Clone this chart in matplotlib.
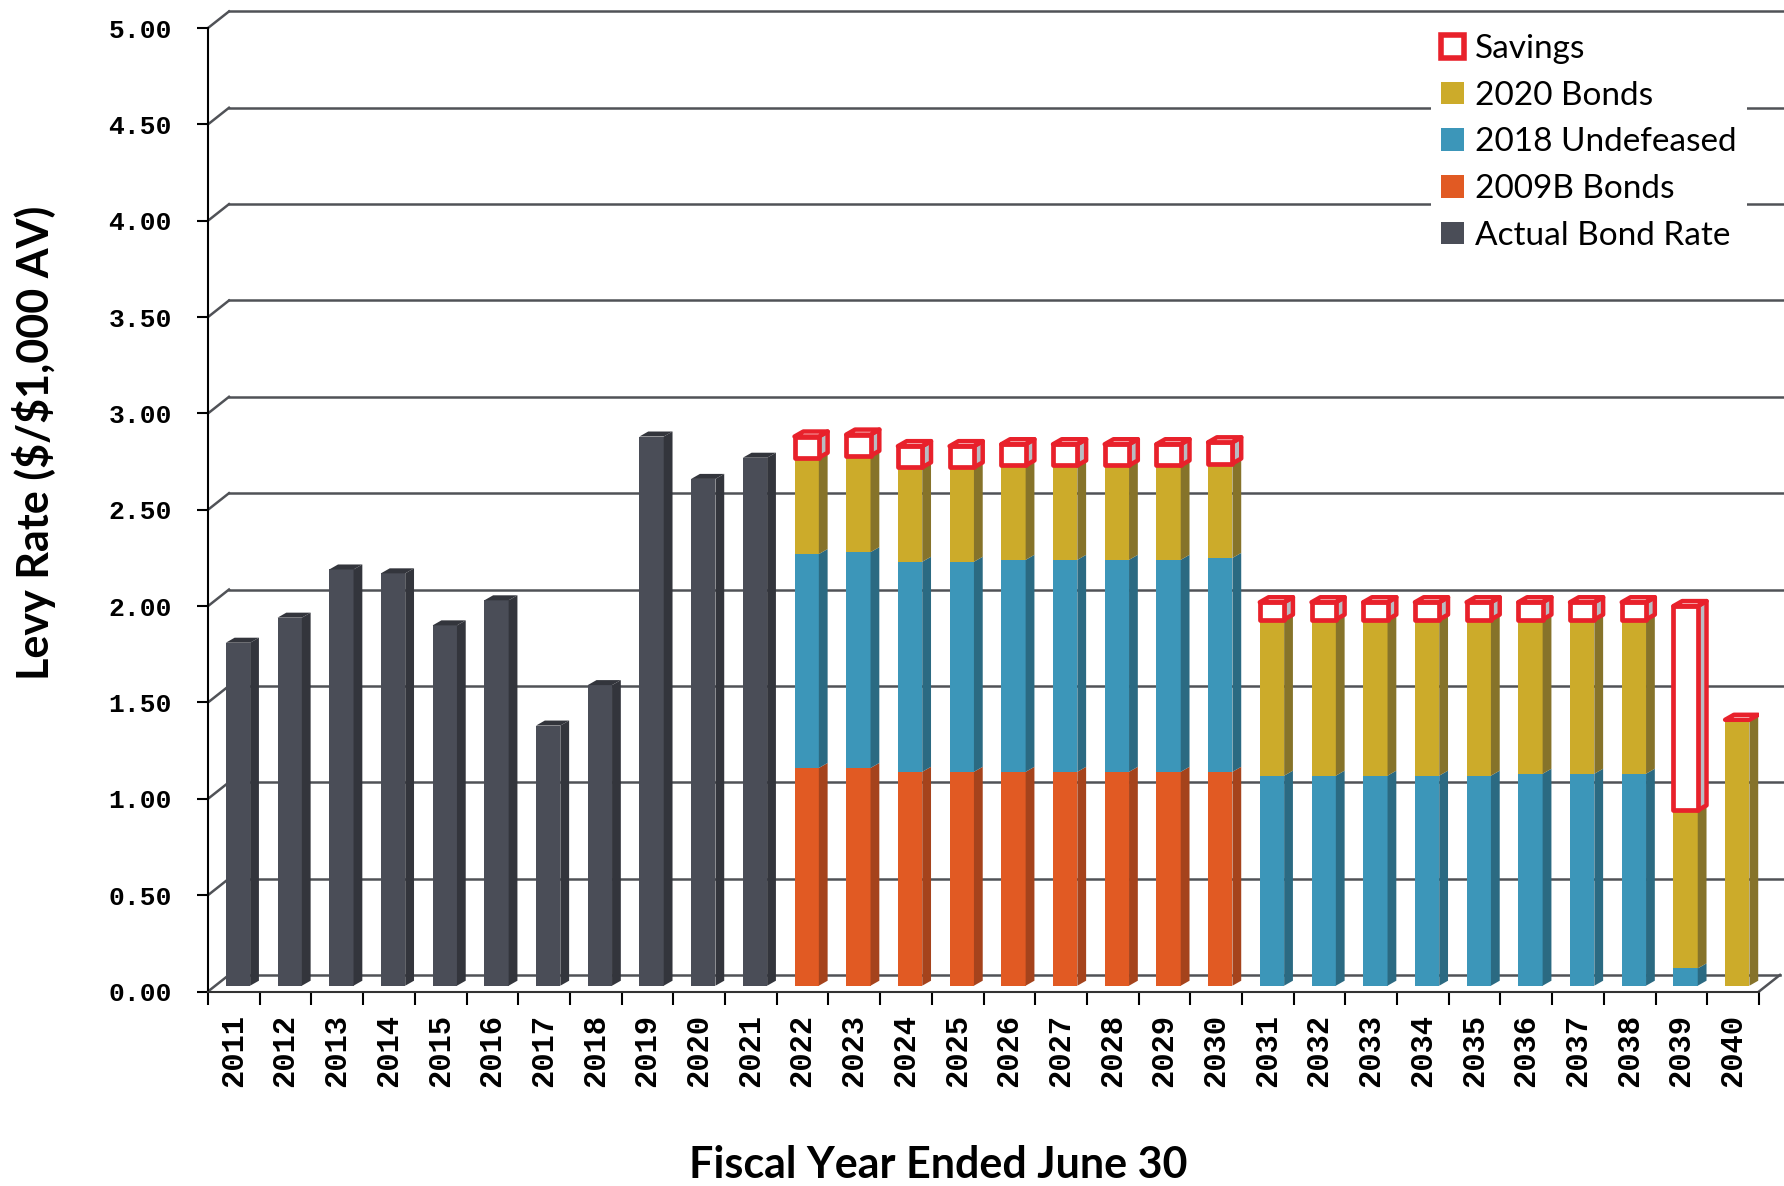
import matplotlib
matplotlib.use("Agg")
import matplotlib.pyplot as plt
from matplotlib.patches import Polygon, Rectangle, Patch
import numpy as np

# ---------------- data ----------------
years = [str(y) for y in range(2011, 2041)]
actual_bond_rate = [1.78, 1.91, 2.16, 2.14, 1.87, 2.00, 1.35, 1.56, 2.85, 2.63, 2.74,
                    0, 0, 0, 0, 0, 0, 0, 0, 0,
                    0, 0, 0, 0, 0, 0, 0, 0, 0, 0]
bonds_2009b = [0] * 11 + [1.13, 1.13, 1.11, 1.11, 1.11, 1.11, 1.11, 1.11, 1.11] + [0] * 10
undefeased_2018 = [0] * 11 + [1.11, 1.12, 1.09, 1.09, 1.10, 1.10, 1.10, 1.10, 1.11] + \
                  [1.09, 1.09, 1.09, 1.09, 1.09, 1.10, 1.10, 1.10, 0.09, 0.0]
bonds_2020 = [0] * 11 + [0.50, 0.50, 0.49, 0.49, 0.49, 0.49, 0.49, 0.49, 0.49] + \
             [0.81, 0.81, 0.81, 0.81, 0.81, 0.80, 0.80, 0.80, 0.82, 1.38]
savings = [None] * 11 + [0.11, 0.11, 0.11, 0.11, 0.11, 0.11, 0.11, 0.11, 0.11] + \
          [0.09, 0.09, 0.09, 0.09, 0.09, 0.09, 0.09, 0.09, 1.06, 0.0]
yticks = [0.0, 0.5, 1.0, 1.5, 2.0, 2.5, 3.0, 3.5, 4.0, 4.5, 5.0]

# ---------------- style ----------------
C_DARK, S_DARK = "#4a4d57", "#33353c"
C_ORANGE, S_ORANGE = "#e15a23", "#a5431c"
C_BLUE, S_BLUE = "#3c96b9", "#2b6a82"
C_GOLD, S_GOLD = "#ccab2a", "#86732a"
C_RED = "#e8212b"
C_GRID = "#505257"

W = 0.47        # bar front width (category units)
SHIFT = 0.08    # bar offset (depth placement)
DX, DY = 0.17, 0.026   # bar depth projection
BASE = 0.03            # floor offset of bars
GX, GY = 0.406, 0.086  # back-wall projection

W_PX, H_PX = 1784, 1186
fig = plt.figure(figsize=(W_PX / 100, H_PX / 100), dpi=100, facecolor="white")
ax = fig.add_axes([208 / W_PX, (H_PX - 991.5) / H_PX, (1759 - 208) / W_PX, (991.5 - 28) / H_PX])
ax.set_facecolor("none")

n = len(years)
x = np.arange(n)
ax.set_xlim(-0.5, n - 0.5)
ax.set_ylim(0, 5)

# back-wall gridlines with diagonals from the front axis
for yv in yticks:
    ax.plot([-0.5, -0.5 + GX], [yv, yv + GY], color=C_GRID, lw=1.8, zorder=1, clip_on=False)
    xr = n - 0.5 + GX if yv == 0 else n
    ax.plot([-0.5 + GX, xr], [yv + GY, yv + GY], color=C_GRID, lw=1.8, zorder=1, clip_on=False)
ax.plot([n - 0.5, n - 0.5 + GX], [0, GY], color=C_GRID, lw=1.8, zorder=1, clip_on=False)


def side_face(xl, y0, y1, color, z=3, ec="none", lw=0):
    xr = xl + W
    ax.add_patch(Polygon([(xr, y0), (xr + DX, y0 + DY), (xr + DX, y1 + DY), (xr, y1)],
                         closed=True, facecolor=color, edgecolor=ec, lw=lw, zorder=z,
                         joinstyle="round"))


def top_face(xl, y1, color, z=3, ec="none", lw=0):
    xr = xl + W
    ax.add_patch(Polygon([(xl, y1), (xl + DX, y1 + DY), (xr + DX, y1 + DY), (xr, y1)],
                         closed=True, facecolor=color, edgecolor=ec, lw=lw, zorder=z,
                         joinstyle="round"))


series = [(actual_bond_rate, C_DARK, S_DARK),
          (bonds_2009b, C_ORANGE, S_ORANGE),
          (undefeased_2018, C_BLUE, S_BLUE),
          (bonds_2020, C_GOLD, S_GOLD)]

bottoms = np.full(n, BASE)
top_side = [None] * n
for vals, face, side in series:
    v = np.array(vals, dtype=float)
    ax.bar(x + SHIFT, v, width=W, bottom=bottoms, color=face, edgecolor="none", zorder=3)
    for i in range(n):
        if v[i] > 0:
            xl = x[i] + SHIFT - W / 2
            side_face(xl, bottoms[i], bottoms[i] + v[i], side)
            top_side[i] = side
    bottoms = bottoms + v

# top faces for bars without savings
for i in range(n):
    if savings[i] is None and top_side[i] is not None:
        top_face(x[i] + SHIFT - W / 2, bottoms[i], top_side[i])

# savings boxes
for i in range(n):
    s = savings[i]
    if s is None:
        continue
    xl = x[i] + SHIFT - W / 2
    y0, y1 = bottoms[i], bottoms[i] + s
    if s > 0:
        side_face(xl, y0, y1, "#b9bcc2", z=4, ec=C_RED, lw=3.2)
        ax.add_patch(Rectangle((xl, y0), W, s, facecolor="white", edgecolor=C_RED,
                               lw=3.4, zorder=5, joinstyle="round"))
    top_face(xl, y1, "white", z=5, ec=C_RED, lw=3.2)

# axes styling
for sp in ["top", "right"]:
    ax.spines[sp].set_visible(False)
ax.spines["left"].set_color("black")
ax.spines["left"].set_linewidth(1.5)
ax.spines["bottom"].set_color("#333333")
ax.spines["bottom"].set_linewidth(1.5)
ax.spines["left"].set_zorder(6)
ax.spines["bottom"].set_zorder(6)

ax.set_yticks(yticks)
ax.set_yticklabels([f"{t:.2f}" for t in yticks])
ax.tick_params(axis="y", length=8, width=1.5, pad=18, direction="out")
for lab in ax.get_yticklabels():
    lab.set_fontfamily("Liberation Mono")
    lab.set_fontweight("bold")
    lab.set_fontsize(19)

ax.set_xticks(np.arange(-0.5, n, 1.0))
ax.set_xticklabels([])
ax.tick_params(axis="x", which="major", length=9, width=1.5, direction="out")
ax.set_xticks(x, minor=True)
ax.set_xticklabels(years, minor=True, rotation=90)
ax.tick_params(axis="x", which="minor", length=0, pad=16)
for lab in ax.get_xticklabels(minor=True):
    lab.set_fontfamily("Liberation Mono")
    lab.set_fontweight("bold")
    lab.set_fontsize(22)

fig.text(938 / W_PX, 1 - 1165 / H_PX, "Fiscal Year Ended June 30", ha="center", va="center",
         fontsize=31, fontweight="bold", family="Lato")
fig.text(34 / W_PX, 1 - 443 / H_PX, r"Levy Rate (\$/\$1,000 AV)", ha="center", va="center",
         rotation=90, fontsize=31, fontweight="bold", family="Lato")

handles = [Patch(facecolor="white", edgecolor=C_RED, lw=4),
           Patch(facecolor=C_GOLD), Patch(facecolor=C_BLUE),
           Patch(facecolor=C_ORANGE), Patch(facecolor=C_DARK)]
labels = ["Savings", "2020 Bonds", "2018 Undefeased", "2009B Bonds", "Actual Bond Rate"]
leg = fig.legend(handles, labels, loc="upper left", bbox_to_anchor=(1431 / W_PX, 1 - 24 / H_PX),
                 frameon=True, fancybox=False, edgecolor="none", facecolor="white", framealpha=1,
                 prop={"family": "Lato", "size": 24}, handlelength=0.68, handleheight=0.68,
                 handletextpad=0.35, labelspacing=0.5, borderpad=0.3, borderaxespad=0)
leg.set_zorder(10)

fig.savefig("out.png", dpi=100, facecolor="white")
